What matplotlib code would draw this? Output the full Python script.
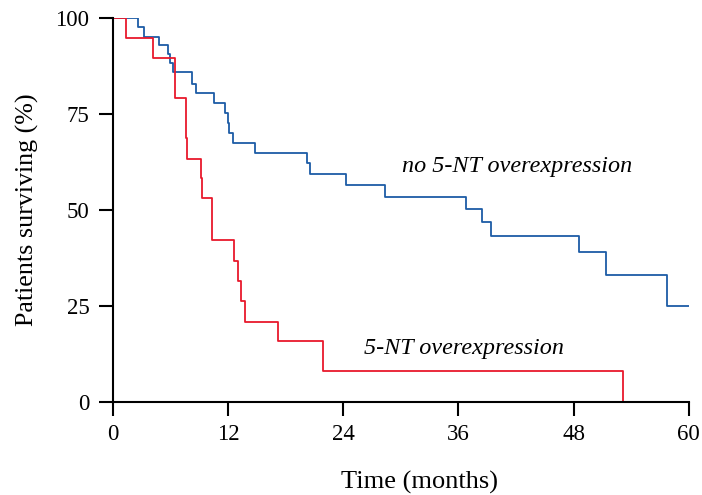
import matplotlib
matplotlib.use('Agg')
import matplotlib.pyplot as plt

# Kaplan-Meier steps (months, % surviving)
t_no = [0, 2.6, 3.2, 4.8, 5.7, 5.9, 6.2, 8.2, 8.6, 10.5, 11.7, 12.0, 12.1, 12.5, 14.8,
        20.2, 20.5, 24.3, 28.3, 36.8, 38.5, 39.4, 48.6, 51.4, 57.7, 60]
s_no = [100, 97.7, 95.1, 92.9, 90.5, 88.2, 85.8, 82.8, 80.4, 77.8, 75.2, 72.6, 70.0, 67.4, 64.8,
        62.2, 59.4, 56.5, 53.3, 50.3, 46.9, 43.3, 39.0, 33.1, 25.1, 25.1]

t_over = [0, 1.4, 4.2, 6.5, 7.6, 7.7, 9.2, 9.3, 10.35, 12.6, 13.0, 13.3, 13.8, 17.2, 21.9, 53.2]
s_over = [100, 94.7, 89.5, 79.1, 68.8, 63.3, 58.4, 53.0, 42.2, 36.7, 31.5, 26.3, 20.9, 15.9, 8.0, 0]

xticks = [0, 12, 24, 36, 48, 60]
yticks = [0, 25, 50, 75, 100]

plt.rcParams['font.family'] = ['Liberation Serif', 'DejaVu Serif']

fig = plt.figure(figsize=(7.02, 4.95), dpi=100)
ax = fig.add_axes([0.161, 0.188, 0.82, 0.776])

ax.step(t_no, s_no, where='post', color='#1d5ca6', lw=1.3)
ax.step(t_over, s_over, where='post', color='#e8192c', lw=1.3)

ax.text(42.1, 61.2, 'no 5-NT overexpression', style='italic', fontsize=17.4,
        ha='center', va='center')
ax.text(36.6, 14.0, '5-NT overexpression', style='italic', fontsize=17.4,
        ha='center', va='center')

ax.set_xlim(0, 60)
ax.set_ylim(0, 100)
ax.set_xticks(xticks)
ax.set_yticks(yticks)
ax.tick_params(direction='out', length=10, width=1.5, labelsize=16.5)
ax.tick_params(axis='x', pad=6)
ax.tick_params(axis='y', pad=7)
for side in ['top', 'right']:
    ax.spines[side].set_visible(False)
for side in ['left', 'bottom']:
    ax.spines[side].set_linewidth(1.5)

ax.set_xlabel('Time (months)', fontsize=19)
ax.xaxis.set_label_coords(0.533, -0.18)
ax.set_ylabel('Patients surviving (%)', fontsize=18.7, labelpad=12)

fig.savefig('out.png', dpi=100)
